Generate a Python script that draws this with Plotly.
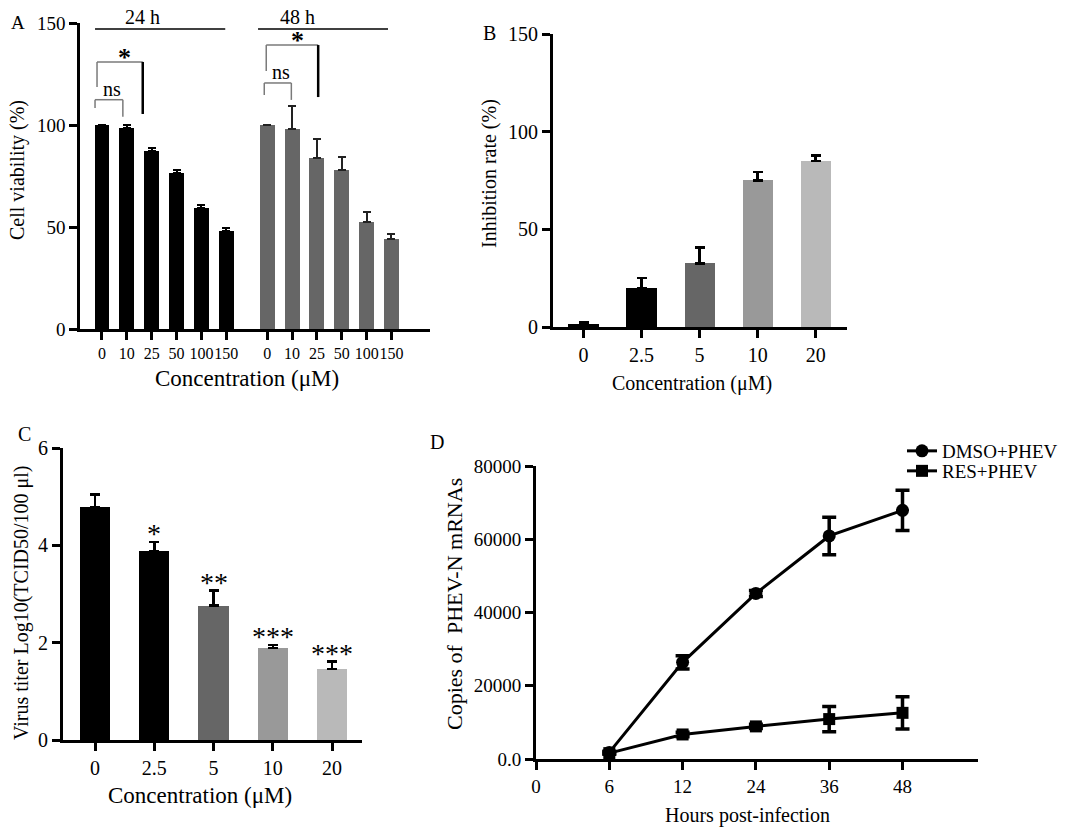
import plotly.graph_objects as go

W, H = 1084, 829
FONT = "Liberation Serif"

# ---------------- data ----------------
# Panel A: cell viability
conc_A = ["0", "10", "25", "50", "100", "150"]
via_24 = [100.0, 98.5, 87.5, 76.5, 59.5, 48.0]
err_24 = [None, 1.5, 1.4, 1.5, 1.5, 1.3]
via_48 = [100.2, 98.2, 83.8, 78.0, 52.3, 44.1]
err_48 = [None, 11.3, 9.2, 6.2, 4.9, 2.5]

# Panel B: inhibition rate
conc_B = ["0", "2.5", "5", "10", "20"]
inhib = [1.5, 19.8, 32.6, 75.1, 85.0]
inhib_err = [0.9, 5.4, 8.0, 4.3, 2.9]

# Panel C: virus titer
conc_C = ["0", "2.5", "5", "10", "20"]
titer = [4.79, 3.88, 2.76, 1.89, 1.46]
titer_err = [0.25, 0.19, 0.31, 0.06, 0.15]
titer_sig = ["", "*", "**", "***", "***"]

# Panel D: PHEV-N mRNA copies
hours = ["0", "6", "12", "24", "36", "48"]
dmso = [1800, 26400, 45200, 60900, 67900]
dmso_err = [300, 1800, 800, 5100, 5500]
res = [1600, 6700, 8900, 10900, 12600]
res_err = [300, 600, 600, 3450, 4400]

# ---------------- styling helpers ----------------
grey_cols = ["#000000", "#000000", "#666666", "#999999", "#b9b9b9"]


def px(x):
    return x / W


def py(y):
    return 1 - y / H


def minus_of(errs):
    return [None if e is None else 0 for e in errs]


def axstyle(**kw):
    d = dict(showline=True, linecolor="black", linewidth=3, ticks="outside",
             tickwidth=2.5, ticklen=8, tickcolor="black", showgrid=False,
             zeroline=False, fixedrange=True, automargin=False, tickangle=0,
             tickfont=dict(family=FONT, size=19, color="black"))
    d.update(kw)
    return d


fig = go.Figure()

# ---------------- Panel A ----------------
GAP48 = 6.65
posA24 = [i for i in range(len(conc_A))]
posA48 = [GAP48 + i for i in range(len(conc_A))]

fig.add_trace(go.Bar(x=posA24, y=via_24, width=0.6, marker=dict(color="#000000", line=dict(width=0)),
                     error_y=dict(type="data", array=err_24, arrayminus=minus_of(err_24), symmetric=False,
                                  color="black", thickness=2, width=4),
                     xaxis="x", yaxis="y", showlegend=False))
fig.add_trace(go.Bar(x=posA48, y=via_48, width=0.6, marker=dict(color="#666666", line=dict(width=0)),
                     error_y=dict(type="data", array=err_48, arrayminus=minus_of(err_48), symmetric=False,
                                  color="#222222", thickness=2, width=4),
                     xaxis="x", yaxis="y", showlegend=False))

# ---------------- Panel B ----------------
posB = list(range(len(conc_B)))
fig.add_trace(go.Bar(x=posB, y=inhib, width=0.52, marker=dict(color=grey_cols, line=dict(width=0)),
                     error_y=dict(type="data", array=inhib_err, arrayminus=minus_of(inhib_err), symmetric=False,
                                  color="black", thickness=2.5, width=5),
                     xaxis="x2", yaxis="y2", showlegend=False))

# ---------------- Panel C ----------------
posC = list(range(len(conc_C)))
fig.add_trace(go.Bar(x=posC, y=titer, width=0.51, marker=dict(color=grey_cols, line=dict(width=0)),
                     error_y=dict(type="data", array=titer_err, arrayminus=minus_of(titer_err), symmetric=False,
                                  color="black", thickness=2.5, width=5),
                     xaxis="x3", yaxis="y3", showlegend=False))

# ---------------- Panel D ----------------
posD = list(range(1, len(hours)))
fig.add_trace(go.Scatter(x=posD, y=dmso, mode="lines+markers", name="DMSO+PHEV",
                         line=dict(color="black", width=3),
                         marker=dict(symbol="circle", size=13, color="black"),
                         error_y=dict(type="data", array=dmso_err, color="black", thickness=3.5, width=7),
                         xaxis="x4", yaxis="y4", legend="legend"))
fig.add_trace(go.Scatter(x=posD, y=res, mode="lines+markers", name="RES+PHEV",
                         line=dict(color="black", width=3),
                         marker=dict(symbol="square", size=12, color="black"),
                         error_y=dict(type="data", array=res_err, color="black", thickness=3.5, width=7),
                         xaxis="x4", yaxis="y4", legend="legend2"))

# ---------------- axes ----------------
layout_axes = dict(
    xaxis=axstyle(domain=[px(80), px(430)], range=[-0.885, 13.2], anchor="y",
                  tickvals=posA24 + posA48, ticktext=conc_A + conc_A,
                  linewidth=2.5, tickwidth=2.5, ticklen=8,
                  tickfont=dict(family=FONT, size=16, color="black")),
    yaxis=axstyle(domain=[py(329), py(23)], range=[0, 150], anchor="x",
                  tickvals=[0, 50, 100, 150], linewidth=2.5, ticklen=8),
    xaxis2=axstyle(domain=[px(553), px(847)], range=[-0.526, 4.54], anchor="y2",
                   tickvals=posB, ticktext=conc_B, tickfont=dict(family=FONT, size=20, color="black")),
    yaxis2=axstyle(domain=[py(327), py(34)], range=[0, 150], anchor="x2",
                   tickvals=[0, 50, 100, 150], tickfont=dict(family=FONT, size=20, color="black")),
    xaxis3=axstyle(domain=[px(63), px(362)], range=[-0.54, 4.506], anchor="y3",
                   tickvals=posC, ticktext=conc_C, tickfont=dict(family=FONT, size=20, color="black")),
    yaxis3=axstyle(domain=[py(740), py(448)], range=[0, 6], anchor="x3",
                   tickvals=[0, 2, 4, 6], tickfont=dict(family=FONT, size=20, color="black")),
    xaxis4=axstyle(domain=[px(536), px(978)], range=[0, 6.03], anchor="y4",
                   tickvals=list(range(len(hours))), ticktext=hours),
    yaxis4=axstyle(domain=[py(759), py(466)], range=[0, 80000], anchor="x4",
                   tickvals=[0, 20000, 40000, 60000, 80000],
                   ticktext=["0.0", "20000", "40000", "60000", "80000"]),
)

# ---------------- annotations ----------------
annotations = []


def ann(text, x, y, size, xref="paper", yref="paper", angle=0, **kw):
    d = dict(text=text, x=x, y=y, xref=xref, yref=yref, showarrow=False, textangle=angle,
             font=dict(family=FONT, size=size, color="black"), xanchor="center", yanchor="middle")
    d.update(kw)
    annotations.append(d)


# panel letters
ann("A", px(18), py(23), 19)
ann("B", px(489), py(33), 20)
ann("C", px(24), py(434), 20)
ann("D", px(437), py(442), 20)

# axis titles
ann("Cell viability (%)", px(17), py(170), 20, angle=-90)
ann("Concentration (μM)", px(247), py(378), 23)
ann("Inhibition rate (%)", px(489), py(174), 20, angle=-90)
ann("Concentration (μM)", px(692), py(383), 20)
ann("Virus titer Log10(TCID50/100 μl)", px(21), py(603), 20, angle=-90)
ann("Concentration (μM)", px(200), py(795), 23)
ann("Copies of  PHEV-N mRNAs", px(454), py(604), 22, angle=-90)
ann("Hours post-infection", px(747), py(815), 20)

# Panel C significance stars above error bars
for i, s in enumerate(titer_sig):
    if s:
        ann(s, posC[i], titer[i] + titer_err[i] + 0.25, 28, xref="x3", yref="y3", yshift=-4)

# Panel A group headers and brackets
shapes = []
ann("24 h", 1.61, py(17), 20, xref="x", yref="paper")
ann("48 h", 7.85, py(17), 20, xref="x", yref="paper")
shapes.append(dict(type="line", xref="x", yref="y", x0=-0.28, x1=4.96, y0=147, y1=147,
                   line=dict(color="black", width=1.5)))
shapes.append(dict(type="line", xref="x", yref="y", x0=6.28, x1=11.51, y0=147, y1=147,
                   line=dict(color="black", width=1.5)))

brackets = [
    # (xleft, xright, top, left_bottom, right_bottom, label, label_x, label_y, label_size, right_thick)
    (posA24[0] - 0.28, posA24[1] - 0.16, 112.4, 108.3, 104.0, "ns", 0.40, 117.5, 20, False),
    (posA24[0] - 0.20, posA24[2] - 0.36, 130.9, 118.6, 105.4, "<b>*</b>", 0.89, 133.0, 26, True),
    (posA48[0] - 0.12, posA48[1] - 0.03, 120.6, 114.7, 112.3, "ns", 7.20, 126.0, 20, False),
    (posA48[0] - 0.04, posA48[2] + 0.05, 139.2, 126.5, 113.7, "<b>*</b>", 7.85, 141.5, 26, True),
]
for xl, xr, top, lb, rb, lab, lx, ly, ls, thick in brackets:
    g = dict(color="#7a7a7a", width=1.5)
    shapes.append(dict(type="line", xref="x", yref="y", x0=xl, x1=xr, y0=top, y1=top, line=g))
    shapes.append(dict(type="line", xref="x", yref="y", x0=xl, x1=xl, y0=top, y1=lb, line=g))
    shapes.append(dict(type="line", xref="x", yref="y", x0=xr, x1=xr, y0=top, y1=rb,
                       line=dict(color="black", width=2.5) if thick else g))
    ann(lab, lx, ly, ls, xref="x", yref="y")

fig.update_layout(
    width=W, height=H, margin=dict(l=0, r=0, t=0, b=0, autoexpand=False),
    paper_bgcolor="white", plot_bgcolor="white",
    barmode="overlay", bargap=0,
    font=dict(family=FONT, color="black"),
    annotations=annotations, shapes=shapes,
    legend=dict(x=px(902), y=py(451), xanchor="left", yanchor="middle", bgcolor="rgba(0,0,0,0)",
                font=dict(family=FONT, size=19, color="black"), itemwidth=30, tracegroupgap=0),
    legend2=dict(x=px(902), y=py(471), xanchor="left", yanchor="middle", bgcolor="rgba(0,0,0,0)",
                 font=dict(family=FONT, size=19, color="black"), itemwidth=30, tracegroupgap=0),
    **layout_axes,
)

fig.write_html("out.html")
